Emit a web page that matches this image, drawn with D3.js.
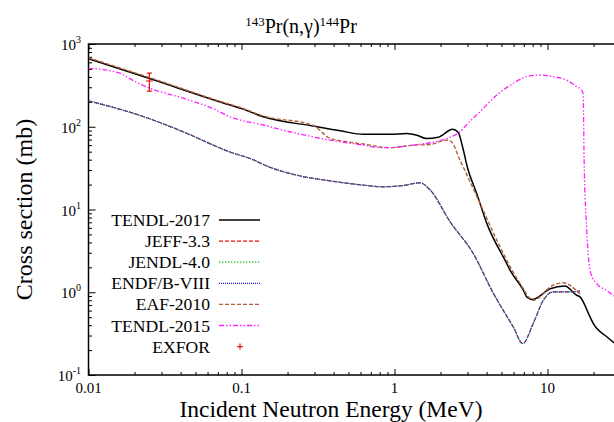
<!DOCTYPE html>
<html>
<head>
<meta charset="utf-8">
<script src="https://cdn.jsdelivr.net/npm/d3@7"></script>
<style>
body { margin: 0; background: #fff; }
text { font-family: "Liberation Serif", "Times New Roman", serif; fill: #000; }
</style>
</head>
<body>
<div id="corpo"></div>
<script>
// values (energy in MeV, cross section in mb)
var eTendl17 = [0.01, 0.0248, 0.0841, 0.0989, 0.1386, 0.294, 0.441, 0.625, 0.936, 1.20, 1.40, 1.62, 1.93, 2.40, 2.61, 2.80, 3.0, 3.44, 4.01, 5.41, 5.69, 6.95, 7.31, 8.0, 10.4, 13.0, 15.5, 16.3, 19.0, 19.9, 24.4, 26.9, 30];
var sTendl17 = [665, 385, 183, 167, 132, 102, 89.5, 81, 81, 83, 79, 72, 74.5, 93, 85, 55, 32, 15.7, 6.8, 2.23, 1.85, 1.06, 0.88, 0.82, 1.1, 1.19, 0.92, 0.88, 0.50, 0.42, 0.29, 0.25, 0.22];

var eEval = [0.01, 0.0248, 0.0421, 0.0841, 0.121, 0.1386, 0.2297, 0.378, 0.625, 0.845, 1.14, 1.47, 1.71, 2.31, 3.27, 4.43, 4.90, 5.98, 6.89, 8.07, 9.39, 10.9, 13.3, 16.3];
var sJeff = [206, 126, 86, 49.5, 39.5, 35, 26, 22.2, 19.7, 18.8, 19.5, 21, 17.2, 7.1, 2.94, 0.97, 0.70, 0.38, 0.24, 0.42, 0.80, 1.01, 1.01, 1.03];
var sJendl = [206, 126, 86, 49.5, 39.5, 35, 26, 22.2, 19.7, 18.8, 19.5, 21, 17.2, 7.1, 2.94, 0.97, 0.70, 0.38, 0.24, 0.42, 0.80, 1.01, 1.01, 1.03];
var sEndf = [206, 126, 86, 49.5, 39.5, 35, 26, 22.2, 19.7, 18.8, 19.5, 21, 17.2, 7.1, 2.94, 0.97, 0.70, 0.38, 0.24, 0.42, 0.80, 1.01, 1.01, 1.03];

var eEaf = [0.01, 0.0248, 0.0841, 0.0989, 0.1386, 0.294, 0.378, 0.488, 0.692, 0.803, 0.936, 1.33, 1.71, 2.19, 2.35, 2.68, 3.62, 4.66, 6.61, 8.07, 10.9, 12.7, 16.3];
var sEaf = [680, 395, 186, 170, 135, 104, 72.5, 66, 60, 57, 56, 60, 61, 69, 66, 39.5, 11.9, 4.27, 1.28, 0.80, 1.22, 1.3, 0.95];

var eTendl15 = [0.01, 0.0154, 0.0208, 0.0248, 0.0421, 0.066, 0.0841, 0.1386, 0.2297, 0.378, 0.625, 0.803, 0.936, 1.33, 2.19, 2.68, 3.12, 3.62, 4.66, 5.98, 7.31, 8.93, 10.9, 13.3, 15.5, 16.7, 17.1, 17.35, 18.0, 19.2, 20.9, 24.4, 26.9, 30];
var sTendl15 = [508, 455, 341, 295, 220, 164, 132, 105, 83, 69, 60, 56, 56, 60, 72, 87, 117, 152, 242, 335, 403, 422, 403, 367, 305, 278, 250, 40, 6.2, 1.69, 1.28, 1.05, 0.92, 0.85];

var eExfor = [0.025];
var sExfor = [357];
var errExfor = [88];

var legendNames = ["TENDL-2017", "JEFF-3.3", "JENDL-4.0", "ENDF/B-VIII", "EAF-2010", "TENDL-2015", "EXFOR"];
var xTickLabels = ["0.01", "0.1", "1", "10"];
var yTickExp = ["-1", "0", "1", "2", "3"];

var width = 614, height = 422;
var pLeft = 88.5, pRight = 620.5, pTop = 44, pBottom = 375;

var x = d3.scaleLog().domain([0.01, 30]).range([pLeft, pRight]);
var y = d3.scaleLog().domain([0.1, 1000]).range([pBottom, pTop]);

var svg = d3.select("#corpo").append("svg")
    .attr("width", width)
    .attr("height", height);

svg.append("defs").append("clipPath").attr("id", "clip")
    .append("rect")
    .attr("x", pLeft).attr("y", pTop)
    .attr("width", pRight - pLeft).attr("height", pBottom - pTop);

// tick values
var xMajor = [0.01, 0.1, 1, 10];
var xMinor = [];
[0.01, 0.1, 1, 10].forEach(function(d) {
    for (var k = 2; k <= 9; k++) if (d * k <= 30) xMinor.push(d * k);
});
var yMajor = [0.1, 1, 10, 100, 1000];
var yMinor = [];
[0.1, 1, 10, 100].forEach(function(d) {
    for (var k = 2; k <= 9; k++) yMinor.push(d * k);
});

function axisLines(g) { g.select(".domain").remove(); g.selectAll("text").remove(); }

svg.append("g").attr("transform", "translate(0," + pBottom + ")")
    .call(d3.axisBottom(x).tickValues(xMajor).tickSize(-6).tickSizeOuter(0)).call(axisLines);
svg.append("g").attr("transform", "translate(0," + pBottom + ")")
    .call(d3.axisBottom(x).tickValues(xMinor).tickSize(-3).tickSizeOuter(0)).call(axisLines);
svg.append("g").attr("transform", "translate(0," + pTop + ")")
    .call(d3.axisTop(x).tickValues(xMajor).tickSize(-6).tickSizeOuter(0)).call(axisLines);
svg.append("g").attr("transform", "translate(0," + pTop + ")")
    .call(d3.axisTop(x).tickValues(xMinor).tickSize(-3).tickSizeOuter(0)).call(axisLines);
svg.append("g").attr("transform", "translate(" + pLeft + ",0)")
    .call(d3.axisLeft(y).tickValues(yMajor).tickSize(-7).tickSizeOuter(0)).call(axisLines);
svg.append("g").attr("transform", "translate(" + pLeft + ",0)")
    .call(d3.axisLeft(y).tickValues(yMinor).tickSize(-3.5).tickSizeOuter(0)).call(axisLines);
svg.selectAll(".tick line").attr("stroke", "#000").attr("stroke-width", 1);

// frame
svg.append("rect")
    .attr("x", pLeft).attr("y", pTop)
    .attr("width", pRight - pLeft).attr("height", pBottom - pTop)
    .attr("fill", "none").attr("stroke", "#000").attr("stroke-width", 1.5);

// tick labels
svg.selectAll(".xlab").data(xMajor).enter().append("text")
    .attr("x", function(d) { return x(d); })
    .attr("y", 392.5)
    .attr("text-anchor", "middle")
    .style("font-size", "15px")
    .text(function(d, i) { return xTickLabels[i]; });

var yl = svg.selectAll(".ylab").data(yMajor).enter().append("text")
    .attr("x", 81)
    .attr("y", function(d) { return y(d) + 6; })
    .attr("text-anchor", "end")
    .style("font-size", "15px");
yl.append("tspan").text("10");
yl.append("tspan").attr("dy", -7).style("font-size", "10px").text(function(d, i) { return yTickExp[i]; });

// curves
var line = d3.line()
    .x(function(d) { return x(d[0]); })
    .y(function(d) { return y(d[1]); })
    .curve(d3.curveMonotoneX);

function pairs(e, s) { return e.map(function(v, i) { return [v, s[i]]; }); }

var series = [
    { data: pairs(eTendl17, sTendl17), color: "#000000", dash: null, w: 1.5 },
    { data: pairs(eEval, sJeff), color: "#ee1111", dash: "4,2", w: 1.2 },
    { data: pairs(eEval, sJendl), color: "#11bb11", dash: "1.3,1.7", w: 1.2 },
    { data: pairs(eEval, sEndf), color: "#2222ee", dash: "1,1", w: 1.2 },
    { data: pairs(eEaf, sEaf), color: "#b0603a", dash: "4,2", w: 1.4 },
    { data: pairs(eTendl15, sTendl15), color: "#ff22ff", dash: "5,2,1.5,2,1.5,2", w: 1.3 }
];

var plot = svg.append("g").attr("clip-path", "url(#clip)");
series.forEach(function(s) {
    plot.append("path")
        .attr("d", line(s.data))
        .attr("fill", "none")
        .attr("stroke", s.color)
        .attr("stroke-width", s.w)
        .attr("stroke-dasharray", s.dash);
});

// EXFOR point with error bar
var ex = plot.selectAll(".exfor").data(eExfor).enter().append("g");
ex.append("line")
    .attr("x1", function(d) { return x(d); }).attr("x2", function(d) { return x(d); })
    .attr("y1", function(d, i) { return y(sExfor[i] - errExfor[i]); })
    .attr("y2", function(d, i) { return y(sExfor[i] + errExfor[i]); });
ex.append("line")
    .attr("x1", function(d) { return x(d) - 2.5; }).attr("x2", function(d) { return x(d) + 2.5; })
    .attr("y1", function(d, i) { return y(sExfor[i] - errExfor[i]); })
    .attr("y2", function(d, i) { return y(sExfor[i] - errExfor[i]); });
ex.append("line")
    .attr("x1", function(d) { return x(d) - 2.5; }).attr("x2", function(d) { return x(d) + 2.5; })
    .attr("y1", function(d, i) { return y(sExfor[i] + errExfor[i]); })
    .attr("y2", function(d, i) { return y(sExfor[i] + errExfor[i]); });
ex.append("line")
    .attr("x1", function(d) { return x(d) - 3.5; }).attr("x2", function(d) { return x(d) + 3.5; })
    .attr("y1", function(d, i) { return y(sExfor[i]); })
    .attr("y2", function(d, i) { return y(sExfor[i]); });
ex.selectAll("line").attr("stroke", "#ee1111").attr("stroke-width", 1.2);

// legend
var leg = svg.append("g");
legendNames.forEach(function(name, i) {
    var ly = 220 + i * 21.1;
    leg.append("text")
        .attr("x", 210).attr("y", ly + 6)
        .attr("text-anchor", "end")
        .style("font-size", "17.6px")
        .text(name);
    if (i < series.length) {
        var s = series[i];
        leg.append("line")
            .attr("x1", 219).attr("x2", 260)
            .attr("y1", ly).attr("y2", ly)
            .attr("stroke", s.color)
            .attr("stroke-width", s.w)
            .attr("stroke-dasharray", s.dash);
    } else {
        leg.append("line").attr("x1", 237).attr("x2", 243).attr("y1", ly).attr("y2", ly)
            .attr("stroke", "#ee1111").attr("stroke-width", 1.2);
        leg.append("line").attr("x1", 240).attr("x2", 240).attr("y1", ly - 3).attr("y2", ly + 3)
            .attr("stroke", "#ee1111").attr("stroke-width", 1.2);
    }
});

// title and axis titles
var title = svg.append("text")
    .attr("x", 301).attr("y", 33)
    .attr("text-anchor", "middle")
    .style("font-size", "20px");
title.append("tspan").attr("dy", -7).style("font-size", "13px").text("143");
title.append("tspan").attr("dy", 7).text("Pr(n,γ)");
title.append("tspan").attr("dy", -7).style("font-size", "13px").text("144");
title.append("tspan").attr("dy", 7).text("Pr");

svg.append("text")
    .attr("x", 331).attr("y", 416.8)
    .attr("text-anchor", "middle")
    .style("font-size", "23.5px")
    .text("Incident Neutron Energy (MeV)");

svg.append("text")
    .attr("transform", "translate(32," + ((pTop + pBottom) / 2) + ") rotate(-90)")
    .attr("text-anchor", "middle")
    .style("font-size", "24px")
    .text("Cross section (mb)");
</script>
</body>
</html>
